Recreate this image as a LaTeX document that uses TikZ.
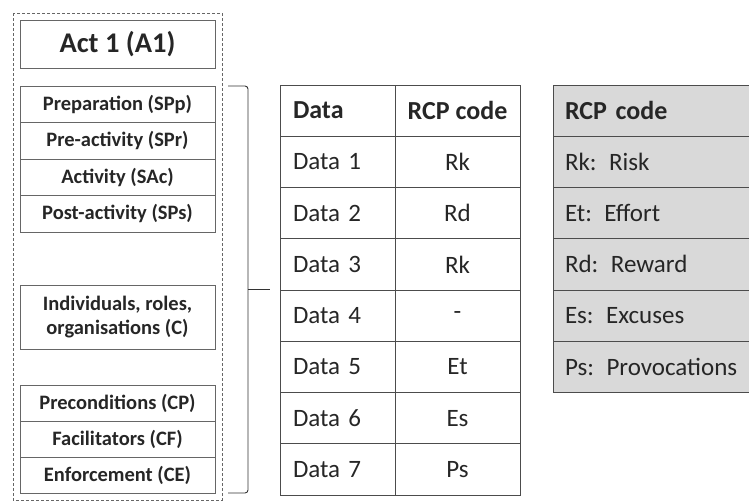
\documentclass[tikz,border=0pt]{standalone}
\usepackage{fontspec}
\setmainfont{Carlito}
\usetikzlibrary{positioning}

\begin{document}
\begin{tikzpicture}[x=1pt,y=-1pt,node distance=0pt,
  box/.style={draw=black!60,line width=0.9pt,inner sep=0pt,outer sep=0pt,
    minimum width=195pt,text=black!85},
  phase/.style={box,minimum height=36.5pt,font=\fontsize{20.5}{24}\bfseries},
  cell/.style={draw=black!70,line width=0.9pt,inner sep=0pt,outer sep=0pt,
    minimum height=51.25pt,anchor=north west,text=black!85,
    font=\fontsize{25}{30}\selectfont},
  datacell/.style={cell,text width=89pt,inner xsep=13pt,align=left},
  codecell/.style={cell,minimum width=125pt},
  keycell/.style={cell,fill=black!15,text width=183pt,inner xsep=12pt,align=left},
  head/.style={font=\fontsize{26}{30}\bfseries}]
  \useasboundingbox (0,0) rectangle (749,501);

  % left column: act and its phases
  \draw[dashed,black!60,line width=0.9pt,dash pattern=on 3pt off 2pt] (13,13) rectangle (222,500);
  \node[box,minimum height=48pt,font=\fontsize{28.5}{32}\bfseries] (act) at (117.5,44) {Act 1 (A1)};
  \node[phase,anchor=north] (spp) at (117.5,86) {Preparation (SPp)};
  \node[phase] (spr) [below=of spp] {Pre-activity (SPr)};
  \node[phase] (sac) [below=of spr] {Activity (SAc)};
  \node[phase] (sps) [below=of sac] {Post-activity (SPs)};
  \node[phase,minimum height=64pt,align=center,anchor=north] (ind) at (117.5,285)
    {Individuals, roles,\\organisations (C)};
  \node[phase,minimum height=36.3pt,anchor=north] (cp) at (117.5,385) {Preconditions (CP)};
  \node[phase,minimum height=36.3pt] (cf) [below=of cp] {Facilitators (CF)};
  \node[phase,minimum height=36.3pt] (ce) [below=of cf] {Enforcement (CE)};

  % brace
  \coordinate (brtop) at (228,86);
  \coordinate (brbot) at (228,493);
  \coordinate (brtip) at (270,289);
  \draw[black!80,line width=0.9pt,rounded corners=3pt] (brtop) -- (248,86) -- (248,493) -- (brbot);
  \draw[black!80,line width=0.9pt] (248,289) -- (brtip);

  % data table
  \node[datacell,head] (dh) at (280,85) {Data};
  \node[codecell,head] (ch) at (395,85) {RCP code};
  \foreach \lbl/\code [count=\i] in {Data 1/Rk,Data 2/Rd,Data 3/Rk,Data 4/-,
      Data 5/Et,Data 6/Es,Data 7/Ps}{
    \node[datacell] (d\i) at (280,85+51.25*\i) {\lbl};
    \node[codecell] (c\i) at (395,85+51.25*\i) {\code};
  }

  % code key
  \node[keycell,head] (kh) at (553,85) {RCP code};
  \foreach \key [count=\i] in {Rk: Risk,Et: Effort,Rd: Reward,Es: Excuses,Ps: Provocations}{
    \node[keycell] (k\i) at (553,85+51.25*\i) {\key};
  }
\end{tikzpicture}
\end{document}
